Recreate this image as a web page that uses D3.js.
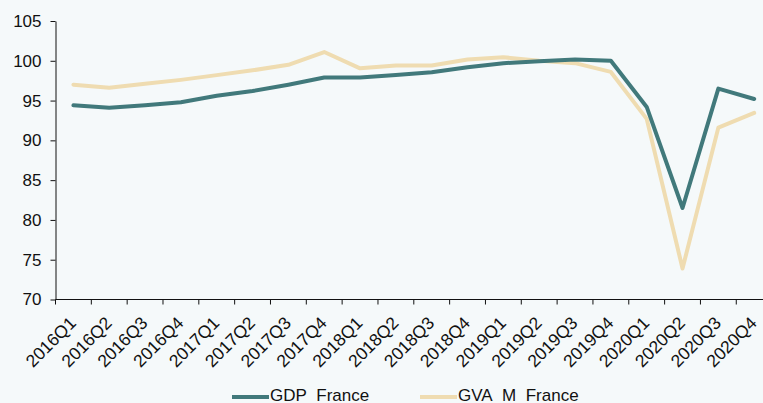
<!DOCTYPE html>
<html>
<head>
<meta charset="utf-8">
<script src="https://cdn.jsdelivr.net/npm/d3@7"></script>
<style>
  html, body { margin: 0; padding: 0; background: #f5f9fa; overflow: hidden; }
  svg { display: block; font-family: 'Liberation Sans', Arial, sans-serif; }
</style>
</head>
<body>
<div id="chart"></div>
<script>
const quarters = ['2016Q1', '2016Q2', '2016Q3', '2016Q4', '2017Q1', '2017Q2', '2017Q3', '2017Q4',
  '2018Q1', '2018Q2', '2018Q3', '2018Q4', '2019Q1', '2019Q2', '2019Q3', '2019Q4',
  '2020Q1', '2020Q2', '2020Q3', '2020Q4']
const gdpFrance = [94.4, 94.1, 94.4, 94.8, 95.6, 96.2, 97.0, 97.9, 97.9, 98.2, 98.55, 99.2,
  99.7, 99.95, 100.15, 100.0, 94.2, 81.5, 96.5, 95.2]
const gvaMFrance = [97.0, 96.6, 97.1, 97.6, 98.2, 98.8, 99.5, 101.1, 99.05, 99.4, 99.4, 100.15,
  100.45, 100.0, 99.7, 98.6, 92.7, 73.9, 91.6, 93.45]
const yTicks = [70, 75, 80, 85, 90, 95, 100, 105]

const series = [
  { name: 'GDP_France', values: gdpFrance, color: '#41797b' },
  { name: 'GVA_M_France', values: gvaMFrance, color: '#efdcb1' }
]

const width = 763, height = 403
const margin = { top: 21, left: 55.5 }
const plotBottom = 299.5
const band = 35.83

const svg = d3.select('#chart')
  .append('svg')
    .attr('width', width)
    .attr('height', height)

const x = d3.scaleBand()
  .domain(quarters)
  .range([margin.left, margin.left + band * quarters.length])

const y = d3.scaleLinear()
  .domain([70, 105])
  .range([plotBottom, margin.top])

// y axis
const yAxis = svg.append('g')
  .attr('transform', `translate(${margin.left},0)`)
  .call(d3.axisLeft(y).tickValues(yTicks).tickSize(5).tickSizeOuter(0).tickPadding(9))
yAxis.select('.domain').attr('stroke', '#111')
yAxis.selectAll('.tick line').attr('stroke', '#111')
yAxis.selectAll('.tick text')
  .attr('font-size', 17)
  .attr('font-family', "'Liberation Sans', Arial, sans-serif")
  .attr('fill', '#111')

// x axis: ticks sit on band boundaries, labels under band centres
const xg = svg.append('g')
xg.append('line')
  .attr('x1', margin.left).attr('x2', width)
  .attr('y1', plotBottom).attr('y2', plotBottom)
  .attr('stroke', '#111')
xg.selectAll('line.tick')
  .data(quarters).enter()
  .append('line')
    .attr('class', 'tick')
    .attr('x1', d => x(d)).attr('x2', d => x(d))
    .attr('y1', plotBottom).attr('y2', plotBottom + 5)
    .attr('stroke', '#111')
xg.selectAll('text')
  .data(quarters).enter()
  .append('text')
    .attr('transform', d => `translate(${x(d) + x.bandwidth() / 2 - 5},${plotBottom + 16}) rotate(-45)`)
    .attr('text-anchor', 'end')
    .attr('dy', '0.7em')
    .attr('font-size', 17.5)
    .attr('fill', '#111')
    .text(d => d)

// lines
const line = d3.line()
  .x((d, i) => x(quarters[i]) + x.bandwidth() / 2)
  .y(d => y(d))

svg.append('g')
  .selectAll('path')
  .data(series.slice().reverse()).enter()
  .append('path')
    .attr('d', d => line(d.values))
    .attr('fill', 'none')
    .attr('stroke', d => d.color)
    .attr('stroke-width', 4)
    .attr('stroke-linejoin', 'round')
    .attr('stroke-linecap', 'round')

// legend
const legendX = [232, 420]
const legend = svg.append('g')
  .selectAll('g')
  .data(series).enter()
  .append('g')
    .attr('transform', (d, i) => `translate(${legendX[i]},397)`)
legend.append('line')
  .attr('x1', 0).attr('x2', 37)
  .attr('stroke', d => d.color)
  .attr('stroke-width', 4)
legend.append('text')
  .attr('x', 38)
  .attr('y', 4.2)
  .attr('font-size', 17)
  .attr('fill', '#111')
  .text(d => d.name)
</script>
</body>
</html>
